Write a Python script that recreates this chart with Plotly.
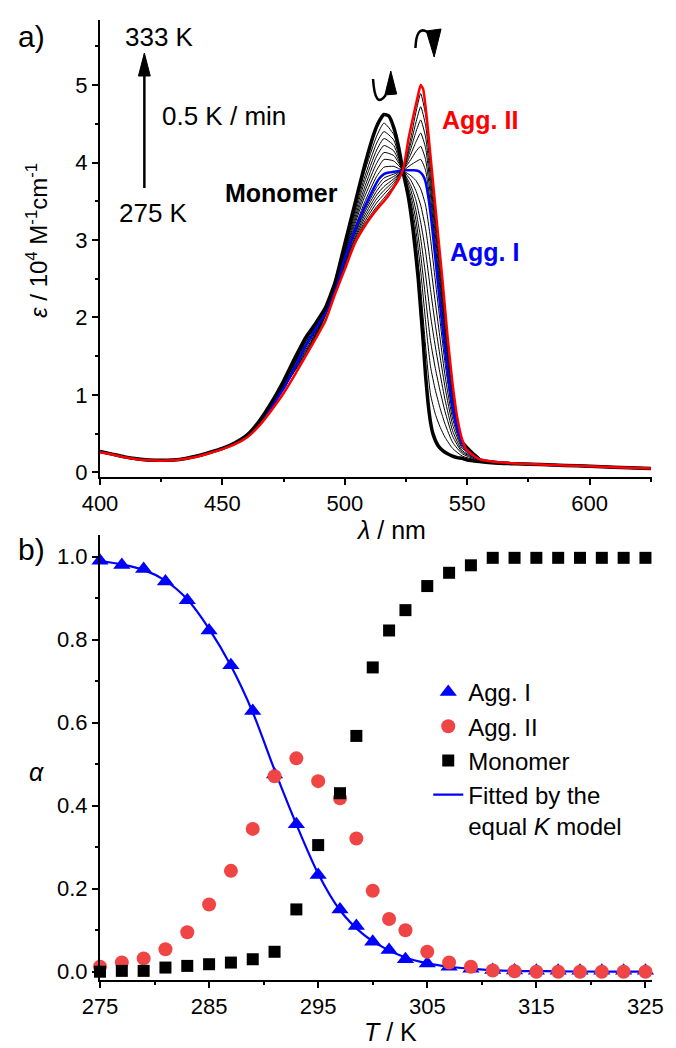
import plotly.graph_objects as go

# ---------------- data : panel a (spectra) ----------------
WL = [400, 405, 410, 415, 420, 425, 430, 435, 440, 445, 450, 455, 460, 465, 470, 475, 480, 484, 488, 492,
      496, 500, 504, 508, 512, 514, 516, 518, 520, 522, 524, 526, 528, 530, 531, 532, 533, 534, 535, 536,
      538, 540, 542, 544, 546, 548, 550, 555, 560, 570, 580, 590, 600, 610, 625]
EPS_MONOMER = [0.27, 0.235, 0.2, 0.175, 0.16, 0.155, 0.16, 0.18, 0.215, 0.26, 0.31, 0.38, 0.48, 0.66, 0.9, 1.18, 1.5, 1.74, 1.92, 2.12,
               2.45, 2.95, 3.45, 3.95, 4.38, 4.53, 4.62, 4.6, 4.45, 4.2, 3.85, 3.55, 3.1, 2.5, 2.1, 1.7, 1.25, 0.9, 0.65, 0.5,
               0.35, 0.28, 0.24, 0.21, 0.19, 0.18, 0.16, 0.14, 0.125, 0.11, 0.1, 0.09, 0.08, 0.065, 0.05]
EPS_AGG_II = [0.26, 0.23, 0.195, 0.17, 0.155, 0.15, 0.155, 0.175, 0.205, 0.25, 0.3, 0.36, 0.45, 0.6, 0.8, 1.02, 1.28, 1.5, 1.72, 1.95,
              2.3, 2.62, 2.95, 3.17, 3.35, 3.43, 3.5, 3.58, 3.68, 3.78, 3.93, 4.3, 4.6, 4.88, 5.0, 4.95, 4.72, 4.42, 4.09, 3.76,
              3.1, 2.45, 1.75, 1.15, 0.7, 0.42, 0.28, 0.17, 0.14, 0.115, 0.1, 0.09, 0.08, 0.065, 0.05]
EPS_AGG_I = [0.265, 0.232, 0.198, 0.172, 0.157, 0.152, 0.158, 0.178, 0.21, 0.255, 0.305, 0.37, 0.46, 0.62, 0.85, 1.08, 1.38, 1.63, 1.85, 2.06,
             2.38, 2.76, 3.12, 3.42, 3.68, 3.79, 3.85, 3.87, 3.88, 3.89, 3.9, 3.9, 3.9, 3.89, 3.87, 3.83, 3.75, 3.58, 3.35, 3.07,
             2.45, 1.85, 1.3, 0.85, 0.55, 0.38, 0.27, 0.17, 0.14, 0.115, 0.1, 0.09, 0.08, 0.065, 0.05]

# intermediate temperatures (thin black lines), read on a coarser grid
WL_THIN = [470, 478, 484, 490, 496, 502, 508, 513, 516, 520, 524, 527, 529, 531, 533, 535, 537, 539, 541, 544, 548, 556]
THIN_SPECTRA = [
    [0.81, 1.23, 1.52, 1.87, 2.31, 2.80, 3.20, 3.43, 3.54, 3.70, 3.93, 4.32, 4.64, 4.89, 4.62, 4.02, 3.36, 2.71, 2.05, 1.12, 0.42, 0.16],
    [0.81, 1.24, 1.54, 1.88, 2.32, 2.82, 3.23, 3.48, 3.59, 3.73, 3.92, 4.25, 4.51, 4.72, 4.48, 3.91, 3.26, 2.62, 1.96, 1.08, 0.41, 0.16],
    [0.82, 1.25, 1.56, 1.89, 2.33, 2.85, 3.27, 3.53, 3.64, 3.76, 3.92, 4.18, 4.39, 4.55, 4.33, 3.79, 3.16, 2.52, 1.88, 1.03, 0.40, 0.16],
    [0.83, 1.26, 1.58, 1.90, 2.34, 2.87, 3.31, 3.58, 3.69, 3.79, 3.91, 4.11, 4.26, 4.38, 4.19, 3.68, 3.06, 2.43, 1.80, 0.99, 0.40, 0.15],
    [0.84, 1.28, 1.61, 1.91, 2.36, 2.90, 3.35, 3.63, 3.75, 3.82, 3.91, 4.04, 4.14, 4.21, 4.04, 3.57, 2.95, 2.34, 1.72, 0.94, 0.39, 0.15],
    [0.84, 1.29, 1.63, 1.92, 2.37, 2.92, 3.38, 3.68, 3.80, 3.85, 3.90, 3.97, 4.01, 4.04, 3.90, 3.46, 2.85, 2.24, 1.63, 0.90, 0.38, 0.15],
    [0.86, 1.31, 1.66, 1.93, 2.39, 2.98, 3.48, 3.82, 3.94, 3.95, 3.89, 3.83, 3.77, 3.66, 3.45, 3.02, 2.47, 1.93, 1.40, 0.77, 0.36, 0.15],
    [0.86, 1.32, 1.68, 1.94, 2.40, 3.01, 3.55, 3.90, 4.04, 4.02, 3.89, 3.77, 3.64, 3.45, 3.15, 2.69, 2.19, 1.71, 1.24, 0.70, 0.33, 0.15],
    [0.87, 1.33, 1.69, 1.94, 2.41, 3.04, 3.61, 3.99, 4.13, 4.09, 3.88, 3.70, 3.52, 3.23, 2.85, 2.36, 1.90, 1.48, 1.09, 0.62, 0.31, 0.15],
    [0.87, 1.34, 1.71, 1.95, 2.41, 3.07, 3.67, 4.08, 4.22, 4.15, 3.88, 3.64, 3.39, 3.02, 2.55, 2.03, 1.62, 1.26, 0.93, 0.54, 0.28, 0.15],
    [0.88, 1.35, 1.72, 1.95, 2.42, 3.10, 3.74, 4.16, 4.31, 4.22, 3.87, 3.57, 3.27, 2.81, 2.25, 1.70, 1.34, 1.04, 0.78, 0.47, 0.26, 0.15],
    [0.89, 1.36, 1.74, 1.96, 2.43, 3.13, 3.80, 4.25, 4.40, 4.29, 3.86, 3.50, 3.14, 2.60, 1.95, 1.37, 1.06, 0.82, 0.62, 0.39, 0.24, 0.14],
    [0.89, 1.37, 1.75, 1.96, 2.44, 3.16, 3.87, 4.34, 4.51, 4.36, 3.86, 3.43, 3.01, 2.37, 1.63, 1.01, 0.75, 0.58, 0.45, 0.31, 0.21, 0.14],
]

# ---------------- data : panel b (fractions) ----------------
TEMP = [275, 277, 279, 281, 283, 285, 287, 289, 291, 293, 295, 297, 298.5, 300, 301.5, 303, 305, 307, 309,
        311, 313, 315, 317, 319, 321, 323, 325]
ALPHA_AGG_I = [0.99, 0.98, 0.97, 0.94, 0.895, 0.822, 0.738, 0.628, 0.475, 0.355, 0.233, 0.15, 0.11, 0.072, 0.052, 0.03, 0.02, 0.012, 0.007,
               0.004, 0.003, 0.002, 0.002, 0.002, 0.002, 0.002, 0.002]
ALPHA_AGG_II = [0.012, 0.022, 0.032, 0.054, 0.095, 0.162, 0.243, 0.344, 0.471, 0.514, 0.459, 0.418, 0.321, 0.195, 0.127, 0.1, 0.048, 0.022, 0.012,
                0.003, 0.001, 0.0, 0.0, 0.0, 0.0, 0.0, 0.0]
ALPHA_MONOMER = [0.0, 0.002, 0.002, 0.01, 0.014, 0.018, 0.022, 0.03, 0.048, 0.15, 0.305, 0.43, 0.568, 0.733, 0.822, 0.871, 0.929, 0.961, 0.979,
                 0.997, 0.997, 0.997, 0.997, 0.997, 0.997, 0.997, 0.997]
TEMP_FIT = [275, 277, 279, 281, 283, 285, 287, 289, 291, 293, 295, 297, 299, 301, 303, 305, 307, 309, 311, 313, 317, 321, 325]
ALPHA_FIT = [0.99, 0.981, 0.968, 0.942, 0.897, 0.826, 0.737, 0.625, 0.486, 0.355, 0.236, 0.148, 0.093, 0.058, 0.034, 0.02, 0.012,
             0.007, 0.004, 0.002, 0.001, 0.0, 0.0]

# ---------------- layout helpers ----------------
W, H = 676, 1048
ML, MR, MT, MB = 100, 16, 20, 68
PW, PH = W - ML - MR, H - MT - MB


def px(x):
    return (x - ML) / PW


def py(y):
    return (H - MB - y) / PH


FONT = "Liberation Sans, Arial, sans-serif"
RED = "#FF0000"
BLUE = "#0000FF"
CIRC = "#F04545"
TICK_SIZE = 22
TEXT_SIZE = 26
LEGEND_SIZE = 24

fig = go.Figure()

# panel a
for spec in THIN_SPECTRA:
    fig.add_trace(go.Scatter(x=WL_THIN, y=spec, mode="lines", xaxis="x", yaxis="y", showlegend=False,
                             line=dict(color="black", width=1, shape="spline", smoothing=0.5), hoverinfo="skip"))
fig.add_trace(go.Scatter(x=WL, y=EPS_AGG_I, mode="lines", xaxis="x", yaxis="y", showlegend=False,
                         line=dict(color=BLUE, width=2.5, shape="spline", smoothing=0.5)))
fig.add_trace(go.Scatter(x=WL, y=EPS_MONOMER, mode="lines", xaxis="x", yaxis="y", showlegend=False,
                         line=dict(color="black", width=3.5, shape="spline", smoothing=0.5)))
fig.add_trace(go.Scatter(x=WL, y=EPS_AGG_II, mode="lines", xaxis="x", yaxis="y", showlegend=False,
                         line=dict(color=RED, width=2.5, shape="spline", smoothing=0.5)))

# panel b
fig.add_trace(go.Scatter(x=TEMP_FIT, y=ALPHA_FIT, mode="lines", xaxis="x2", yaxis="y2",
                         name="Fitted by the<br>equal <i>K</i> model", legendrank=4,
                         line=dict(color=BLUE, width=2.2, shape="spline", smoothing=0.8)))
fig.add_trace(go.Scatter(x=TEMP, y=ALPHA_AGG_I, mode="markers", xaxis="x2", yaxis="y2", name="Agg. I",
                         legendrank=1, cliponaxis=False,
                         marker=dict(symbol="triangle-up", size=15, color=BLUE)))
fig.add_trace(go.Scatter(x=TEMP, y=ALPHA_AGG_II, mode="markers", xaxis="x2", yaxis="y2", name="Agg. II",
                         legendrank=2, cliponaxis=False,
                         marker=dict(symbol="circle", size=14, color=CIRC)))
fig.add_trace(go.Scatter(x=TEMP, y=ALPHA_MONOMER, mode="markers", xaxis="x2", yaxis="y2", name="Monomer",
                         legendrank=3, cliponaxis=False,
                         marker=dict(symbol="square", size=12, color="black")))

axis_common = dict(showline=True, linewidth=2, linecolor="black", ticks="outside", ticklen=6, tickwidth=2,
                   tickcolor="black", showgrid=False, zeroline=False, mirror=False,
                   tickfont=dict(family=FONT, size=TICK_SIZE, color="black"))
minor_common = dict(ticks="outside", ticklen=3, tickwidth=2, tickcolor="black")

fig.update_layout(
    width=W, height=H, margin=dict(l=ML, r=MR, t=MT, b=MB),
    paper_bgcolor="white", plot_bgcolor="white",
    font=dict(family=FONT, size=TEXT_SIZE, color="black"),
    xaxis=dict(domain=[0, 1], anchor="y", range=[400, 625.5], tick0=400, dtick=50,
               minor=dict(dtick=25, **minor_common), **axis_common),
    yaxis=dict(domain=[py(477), 1], anchor="x", range=[-0.06, 5.84], tick0=0, dtick=1,
               minor=dict(dtick=0.5, **minor_common), **axis_common),
    xaxis2=dict(domain=[0, 1], anchor="y2", range=[275, 325.6], tick0=275, dtick=10,
                minor=dict(dtick=5, **minor_common), **axis_common),
    yaxis2=dict(domain=[0, py(535)], anchor="x2", range=[-0.02, 1.052], tick0=0, dtick=0.2, tickformat=".1f",
                minor=dict(dtick=0.1, **minor_common), **axis_common),
    legend=dict(x=px(433), y=py(670), xanchor="left", yanchor="top", bgcolor="rgba(0,0,0,0)",
                font=dict(family=FONT, size=LEGEND_SIZE, color="black"), traceorder="normal",
                valign="top", itemwidth=30),
    showlegend=True,
)


def ann(x, y, text, size=TEXT_SIZE, color="black", angle=0, xanchor="center"):
    fig.add_annotation(x=px(x), y=py(y), xref="paper", yref="paper", text=text, showarrow=False,
                       font=dict(family=FONT, size=size, color=color), textangle=angle,
                       xanchor=xanchor, yanchor="middle")


# panel labels and titles
ann(30, 37, "a)", size=30)
ann(30, 549, "b)", size=30)
ann(395, 530, "<i>λ</i> / nm", size=25)
ann(395, 1032, "<i>T</i> / K", size=25)
ann(36, 240, "<i>ε</i> / 10<sup>4</sup> M<sup>-1</sup>cm<sup>-1</sup>", size=24, angle=-90)
ann(36, 772, "<i>α</i>", size=25)

# panel a texts
ann(160, 37, "333 K")
ann(226, 116, "0.5 K / min")
ann(154, 213, "275 K")
ann(284, 193, "<b>Monomer</b>", size=25)
ann(485, 120, "<b>Agg. II</b>", size=25, color=RED)
ann(490, 252, "<b>Agg. I</b>", size=25, color=BLUE)


def path(points, close=False, curve=False):
    pts = [(px(a), py(b)) for a, b in points]
    if curve:
        (x0, y0), (x1, y1), (x2, y2) = pts
        return f"M {x0},{y0} Q {x1},{y1} {x2},{y2}"
    s = "M " + " L ".join(f"{a},{b}" for a, b in pts)
    return s + (" Z" if close else "")


# heating arrow (275 K -> 333 K)
fig.add_shape(type="line", xref="paper", yref="paper", x0=px(145), x1=px(145), y0=py(188), y1=py(70),
              line=dict(color="black", width=2.5))
fig.add_shape(type="path", xref="paper", yref="paper", path=path([(145, 53), (151, 76), (139, 76)], close=True),
              line=dict(color="black", width=1), fillcolor="black")

# curved arrows above the peaks
fig.add_shape(type="path", xref="paper", yref="paper", path=path([(377, 79), (379, 110), (390, 95)], curve=True),
              line=dict(color="black", width=2.5))
fig.add_shape(type="path", xref="paper", yref="paper", path=path([(395, 71), (401, 94), (389, 95)], close=True),
              line=dict(color="black", width=1), fillcolor="black")
fig.add_shape(type="path", xref="paper", yref="paper", path=path([(420, 48), (421, 25), (432, 32)], curve=True),
              line=dict(color="black", width=2.5))
fig.add_shape(type="path", xref="paper", yref="paper", path=path([(431, 31), (446, 29), (439, 57)], close=True),
              line=dict(color="black", width=1), fillcolor="black")

fig.write_html("out.html")
